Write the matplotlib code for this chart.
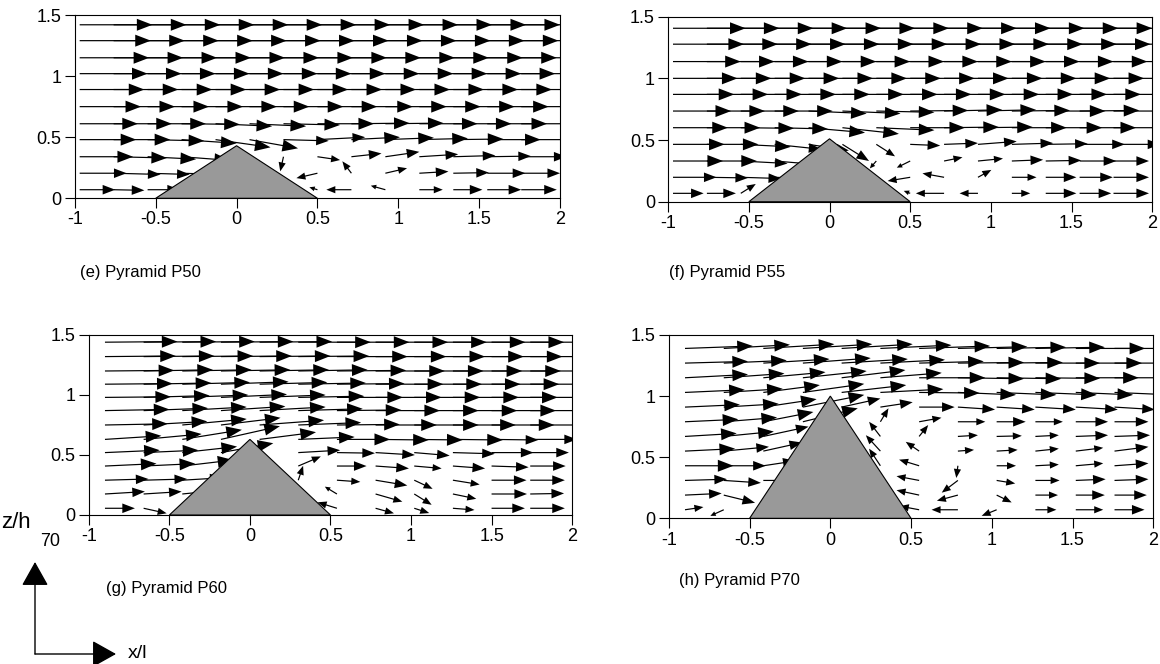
import numpy as np
import matplotlib
matplotlib.use('Agg')
import matplotlib.pyplot as plt
from matplotlib.patches import Polygon

plt.rcParams['font.family'] = ['Liberation Sans', 'DejaVu Sans']
plt.rcParams['axes.unicode_minus'] = False

N = None  # no vector (inside the pyramid or not measured)

# ---------------- (e) Pyramid P50 ----------------
e_x = [-0.97, -0.76, -0.55, -0.34, -0.13, 0.08, 0.29, 0.50, 0.71, 0.92, 1.13, 1.34, 1.55, 1.76]
e_z = [0.07, 0.205, 0.34, 0.48, 0.61, 0.75, 0.89, 1.02, 1.15, 1.29, 1.42]
e_u = [
    [0.22, 0.19, 0.20, N, N, N, N, -0.05, -0.155, -0.09, 0.145, 0.18, 0.21, 0.22],
    [0.29, 0.29, 0.26, 0.25, N, N, N, -0.13, -0.056, 0.134, 0.18, 0.22, 0.235, 0.24],
    [0.33, 0.33, 0.30, 0.30, 0.25, N, -0.02, 0.14, 0.186, 0.21, 0.24, 0.26, 0.27, 0.28],
    [0.35, 0.35, 0.35, 0.34, 0.34, 0.30, 0.28, 0.295, 0.30, 0.30, 0.30, 0.31, 0.33, 0.34],
    [0.36, 0.36, 0.36, 0.36, 0.35, 0.35, 0.35, 0.35, 0.36, 0.36, 0.36, 0.36, 0.37, 0.37],
    [0.38, 0.38, 0.38, 0.38, 0.38, 0.37, 0.37, 0.37, 0.38, 0.38, 0.38, 0.38, 0.38, 0.38],
    [0.40, 0.40, 0.40, 0.40, 0.40, 0.40, 0.40, 0.40, 0.40, 0.40, 0.40, 0.40, 0.40, 0.40],
    [0.42, 0.42, 0.42, 0.42, 0.42, 0.42, 0.42, 0.42, 0.42, 0.42, 0.42, 0.42, 0.42, 0.42],
    [0.43, 0.43, 0.43, 0.43, 0.43, 0.43, 0.43, 0.43, 0.43, 0.43, 0.43, 0.43, 0.43, 0.43],
    [0.44, 0.44, 0.44, 0.44, 0.44, 0.44, 0.44, 0.44, 0.44, 0.44, 0.44, 0.44, 0.44, 0.44],
    [0.45, 0.45, 0.45, 0.45, 0.45, 0.45, 0.45, 0.45, 0.45, 0.45, 0.45, 0.45, 0.45, 0.45],
]
e_w = [
    [0, -0.005, 0, N, N, N, N, 0.02, 0, 0.033, 0, 0, 0, 0],
    [0, -0.01, -0.01, -0.01, N, N, N, -0.04, 0.098, 0.041, 0.014, 0.005, 0, 0],
    [0, -0.01, -0.02, -0.03, -0.02, N, -0.12, -0.027, 0.027, 0.04, 0.02, 0.01, 0.005, 0],
    [0, 0, -0.01, -0.03, -0.063, -0.071, -0.01, 0.02, 0.02, 0.015, 0.01, 0.005, 0, 0],
    [0, 0, 0, -0.005, -0.02, -0.02, -0.01, 0, 0.005, 0.005, 0, 0, 0, 0],
    [0, 0, 0, 0, 0, 0, 0, 0, 0, 0, 0, 0, 0, 0],
    [0, 0, 0, 0, 0, 0, 0, 0, 0, 0, 0, 0, 0, 0],
    [0, 0, 0, 0, 0, 0, 0, 0, 0, 0, 0, 0, 0, 0],
    [0, 0, 0, 0, 0, 0, 0, 0, 0, 0, 0, 0, 0, 0],
    [0, 0, 0, 0, 0, 0, 0, 0, 0, 0, 0, 0, 0, 0],
    [0, 0, 0, 0, 0, 0, 0, 0, 0, 0, 0, 0, 0, 0],
]
e_apex = 0.43

# ---------------- (f) Pyramid P55 ----------------
f_x = [-0.97, -0.76, -0.55, -0.34, -0.13, 0.08, 0.29, 0.50, 0.71, 0.92, 1.13, 1.34, 1.55, 1.76]
f_z = [0.068, 0.198, 0.33, 0.465, 0.60, 0.735, 0.87, 1.0, 1.136, 1.277, 1.406]
f_u = [
    [0.19, 0.18, 0.093, N, N, N, N, -0.04, -0.175, -0.114, 0.114, 0.19, 0.196, 0.22],
    [0.27, 0.255, 0.25, 0.22, N, N, N, -0.14, -0.134, 0.083, 0.153, 0.19, 0.206, 0.22],
    [0.31, 0.31, 0.29, 0.28, N, N, -0.04, -0.083, 0.114, 0.155, 0.194, 0.22, 0.227, 0.22],
    [0.32, 0.32, 0.31, 0.29, 0.25, 0.165, 0.116, 0.186, 0.21, 0.24, 0.256, 0.26, 0.28, 0.29],
    [0.34, 0.33, 0.33, 0.33, 0.35, 0.35, 0.36, 0.34, 0.34, 0.34, 0.34, 0.35, 0.35, 0.35],
    [0.36, 0.36, 0.36, 0.36, 0.36, 0.36, 0.36, 0.36, 0.36, 0.36, 0.36, 0.37, 0.37, 0.37],
    [0.38, 0.38, 0.38, 0.38, 0.38, 0.38, 0.38, 0.38, 0.38, 0.38, 0.38, 0.38, 0.38, 0.38],
    [0.40, 0.40, 0.40, 0.40, 0.40, 0.40, 0.40, 0.40, 0.40, 0.40, 0.40, 0.40, 0.40, 0.40],
    [0.42, 0.42, 0.42, 0.42, 0.42, 0.42, 0.42, 0.42, 0.42, 0.42, 0.42, 0.42, 0.42, 0.42],
    [0.44, 0.44, 0.44, 0.44, 0.44, 0.44, 0.44, 0.44, 0.44, 0.44, 0.44, 0.44, 0.44, 0.44],
    [0.45, 0.45, 0.45, 0.45, 0.45, 0.45, 0.45, 0.45, 0.45, 0.45, 0.45, 0.45, 0.45, 0.45],
]
f_w = [
    [0, 0, 0.076, N, N, N, N, 0.02, 0, 0, 0, 0, 0, 0],
    [0, -0.005, -0.01, -0.01, N, N, N, -0.03, 0.032, 0.06, 0, 0, 0, 0],
    [0, 0, -0.02, -0.03, N, N, -0.06, -0.054, 0.03, 0.02, 0.01, 0.005, 0, 0],
    [0, 0, -0.02, -0.04, -0.05, -0.135, -0.097, -0.01, 0.01, 0.024, 0.01, 0.005, 0, 0],
    [0, 0, -0.005, -0.01, -0.04, -0.05, -0.02, 0, 0.005, 0.005, 0, 0, 0, 0],
    [0, 0, 0, 0, -0.02, -0.02, -0.01, 0.005, 0.01, 0.01, 0.005, 0, 0.005, 0],
    [0, 0, 0, 0, 0, 0, 0, 0, 0, 0, 0, 0, 0, 0],
    [0, 0, 0, 0, 0, 0, 0, 0, 0, 0, 0, 0, 0, 0],
    [0, 0, 0, 0, 0, 0, 0, 0, 0, 0, 0, 0, 0, 0],
    [0, 0, 0, 0, 0, 0, 0, 0, 0, 0, 0, 0, 0, 0],
    [0, 0, 0, 0, 0, 0, 0, 0, 0, 0, 0, 0, 0, 0],
]
f_apex = 0.51

# ---------------- (g) Pyramid P60 ----------------
g_x = [-0.90, -0.66, -0.42, -0.18, 0.06, 0.30, 0.54, 0.78, 1.02, 1.26, 1.50, 1.74]
g_z = [0.056, 0.175, 0.29, 0.408, 0.52, 0.63, 0.75, 0.87, 0.98, 1.09, 1.20, 1.32, 1.44]
g_u = [
    [0.186, 0.143, N, N, N, N, -0.12, 0.114, 0.093, 0.134, 0.207, 0.215],
    [0.248, 0.236, 0.22, N, N, N, -0.075, 0.166, 0.108, 0.145, 0.22, 0.21],
    [0.27, 0.27, 0.25, N, N, 0.03, 0.145, 0.197, 0.114, 0.166, 0.217, 0.215],
    [0.32, 0.32, 0.317, 0.30, N, 0.14, 0.184, 0.207, 0.17, 0.20, 0.23, 0.22],
    [0.34, 0.34, 0.34, 0.325, N, 0.26, 0.236, 0.244, 0.22, 0.26, 0.26, 0.24],
    [0.35, 0.36, 0.37, 0.366, 0.35, 0.35, 0.33, 0.33, 0.30, 0.31, 0.29, 0.29],
    [0.39, 0.395, 0.40, 0.37, 0.40, 0.39, 0.39, 0.38, 0.40, 0.39, 0.39, 0.39],
    [0.40, 0.40, 0.40, 0.40, 0.41, 0.40, 0.40, 0.40, 0.40, 0.40, 0.40, 0.40],
    [0.41, 0.41, 0.41, 0.41, 0.41, 0.41, 0.41, 0.41, 0.41, 0.41, 0.41, 0.41],
    [0.42, 0.42, 0.42, 0.42, 0.42, 0.42, 0.42, 0.42, 0.42, 0.42, 0.42, 0.42],
    [0.43, 0.43, 0.43, 0.43, 0.43, 0.43, 0.43, 0.43, 0.43, 0.43, 0.43, 0.43],
    [0.44, 0.44, 0.44, 0.44, 0.44, 0.44, 0.44, 0.44, 0.44, 0.44, 0.44, 0.44],
    [0.45, 0.45, 0.45, 0.45, 0.45, 0.45, 0.45, 0.45, 0.45, 0.45, 0.45, 0.45],
]
g_w = [
    [0, -0.042, N, N, N, N, 0.05, -0.042, -0.04, -0.014, 0, 0],
    [0.02, 0.02, 0.03, N, N, N, 0.061, -0.064, -0.09, -0.04, 0, 0.005],
    [0.01, 0.01, 0.02, N, N, 0.12, -0.014, -0.044, -0.072, -0.036, 0, 0],
    [0.02, 0.02, 0.05, 0.05, N, 0.08, 0, -0.02, -0.02, -0.02, -0.01, 0],
    [0.02, 0.02, 0.05, 0.078, N, 0.02, -0.005, -0.02, -0.025, -0.01, 0, 0],
    [0.03, 0.045, 0.08, 0.11, 0.06, 0.02, 0, -0.005, -0.005, -0.005, -0.005, 0],
    [0.01, 0.03, 0.05, 0.06, 0.04, 0.02, 0.005, 0, 0, 0, 0, 0],
    [0.01, 0.02, 0.03, 0.035, 0.03, 0.015, 0.005, 0, 0, 0, 0, 0],
    [0.005, 0.015, 0.02, 0.025, 0.02, 0.01, 0, 0, 0, 0, 0, 0],
    [0.005, 0.01, 0.015, 0.02, 0.015, 0.01, 0.005, 0, 0, 0, 0, 0],
    [0.005, 0.01, 0.01, 0.01, 0.01, 0.01, 0.005, 0, 0, 0, 0, 0],
    [0.005, 0.005, 0.005, 0.005, 0.005, 0.005, 0, 0, 0, 0, 0, 0],
    [0.005, 0.005, 0.005, 0.005, 0.005, 0, 0, 0, 0, 0, 0, 0],
]
g_apex = 0.63

# ---------------- (h) Pyramid P70 ----------------
h_x = [-0.90, -0.66, -0.415, -0.17, 0.07, 0.31, 0.55, 0.79, 1.03, 1.27, 1.52, 1.76]
h_z = [0.07, 0.19, 0.31, 0.43, 0.55, 0.67, 0.79, 0.91, 1.03, 1.15, 1.27, 1.39]
h_u = [
    [0.114, -0.083, N, N, N, N, -0.12, -0.163, -0.093, 0.13, 0.17, 0.186],
    [0.227, 0.194, N, N, N, N, -0.14, -0.13, 0.093, 0.14, 0.18, 0.20],
    [0.26, 0.23, 0.20, N, N, N, -0.14, -0.10, 0.115, 0.15, 0.185, 0.21],
    [0.30, 0.26, 0.20, N, N, -0.07, -0.124, -0.01, 0.12, 0.145, 0.17, 0.21],
    [0.31, 0.28, 0.24, N, N, -0.09, -0.083, 0.10, 0.13, 0.145, 0.17, 0.21],
    [0.32, 0.31, 0.28, N, N, -0.07, 0.056, 0.124, 0.156, 0.145, 0.20, 0.22],
    [0.33, 0.33, 0.31, 0.34, N, 0.05, 0.138, 0.17, 0.18, 0.17, 0.20, 0.21],
    [0.34, 0.34, 0.33, 0.38, 0.24, 0.20, 0.22, 0.23, 0.236, 0.25, 0.26, 0.25],
    [0.37, 0.365, 0.35, 0.38, 0.40, 0.39, 0.375, 0.36, 0.37, 0.38, 0.355, 0.36],
    [0.39, 0.376, 0.385, 0.395, 0.395, 0.38, 0.41, 0.41, 0.40, 0.40, 0.39, 0.39],
    [0.39, 0.39, 0.41, 0.42, 0.41, 0.40, 0.40, 0.41, 0.41, 0.40, 0.41, 0.41],
    [0.42, 0.41, 0.44, 0.43, 0.44, 0.44, 0.44, 0.43, 0.43, 0.43, 0.43, 0.43],
]
h_w = [
    [0.022, -0.05, N, N, N, N, 0.03, 0, -0.05, 0, 0, 0],
    [0.014, -0.063, N, N, N, N, 0.04, -0.046, -0.06, 0, 0, 0],
    [0.01, -0.02, 0, N, N, N, 0.035, -0.10, -0.025, 0, 0.01, 0.01],
    [0, 0, 0.04, N, N, 0.14, 0.05, -0.10, 0, 0.01, 0.02, 0.02],
    [0.02, 0.035, 0.07, N, N, 0.13, 0.076, 0.01, 0.01, 0.02, 0.027, 0.035],
    [0.025, 0.04, 0.08, N, N, 0.12, 0.093, 0.01, 0.005, 0.01, 0.01, 0.01],
    [0.02, 0.035, 0.08, 0.11, N, 0.11, 0.033, 0, 0, 0, 0, 0],
    [0.02, 0.027, 0.065, 0.10, 0.07, 0.04, 0, -0.02, -0.02, -0.02, -0.02, -0.02],
    [0.022, 0.03, 0.06, 0.07, 0.06, 0.027, -0.005, -0.02, -0.02, -0.02, -0.02, -0.02],
    [0.027, 0.035, 0.046, 0.055, 0.063, 0.04, 0, -0.008, -0.008, -0.005, 0, 0],
    [0.014, 0.022, 0.033, 0.041, 0.033, 0.027, 0.014, 0.005, 0.005, 0, 0, 0],
    [0.02, 0.03, 0.035, 0.035, 0.035, 0.027, 0.02, 0.014, 0.01, 0.01, 0, 0],
]
h_apex = 1.0

base_half = 0.5
x_ticks = [-1, -0.5, 0, 0.5, 1, 1.5, 2]
x_labels = ['-1', '-0.5', '0', '0.5', '1', '1.5', '2']
z_ticks = [0, 0.5, 1, 1.5]
z_labels = ['0', '0.5', '1', '1.5']

# head size classes by arrow length: (min length, head width, head length) in shaft widths
head_classes = [(0.30, 10.0, 13.0), (0.18, 8.0, 10.5), (0.10, 6.0, 7.5), (0.0, 4.0, 4.5)]


def draw_panel(ax, xs, zs, us, ws, apex):
    X, Z = np.meshgrid(xs, zs)
    U = np.array(us, dtype=float)
    W = np.array(ws, dtype=float)
    L = np.hypot(U, W)
    ok = ~np.isnan(U)
    upper = 10.0
    for lo, hw, hl in head_classes:
        m = ok & (L >= lo) & (L < upper)
        upper = lo
        if m.any():
            ax.quiver(X[m], Z[m], U[m], W[m], angles='xy', scale_units='xy', scale=1,
                      units='dots', width=1.2, headwidth=hw, headlength=hl,
                      headaxislength=hl, minlength=0.1, color='k', zorder=2)
    ax.add_patch(Polygon([(-base_half, 0), (0, apex), (base_half, 0)], closed=True,
                         fc='#999999', ec='k', lw=0.8, zorder=3))
    ax.set_xlim(-1, 2)
    ax.set_ylim(0, 1.5)
    ax.set_xticks(x_ticks)
    ax.set_xticklabels(x_labels)
    ax.set_yticks(z_ticks)
    ax.set_yticklabels(z_labels)
    ax.tick_params(direction='out', length=7.5, width=0.8, pad=2, labelsize=13)
    for s in ax.spines.values():
        s.set_linewidth(0.8)


fig = plt.figure(figsize=(11.6, 6.64), dpi=100)

# overlay in pixel coordinates for captions and the axis key
ax0 = fig.add_axes([0, 0, 1, 1], zorder=-1)
ax0.set_xlim(0, 1160)
ax0.set_ylim(664, 0)
ax0.axis('off')

ax_e = fig.add_axes([0.0645, 0.7014, 0.4183, 0.2760])
ax_f = fig.add_axes([0.5760, 0.6962, 0.4173, 0.2787])
ax_g = fig.add_axes([0.0766, 0.2244, 0.4166, 0.2711])
ax_h = fig.add_axes([0.5766, 0.2194, 0.4176, 0.2761])

draw_panel(ax_e, e_x, e_z, e_u, e_w, e_apex)
draw_panel(ax_f, f_x, f_z, f_u, f_w, f_apex)
draw_panel(ax_g, g_x, g_z, g_u, g_w, g_apex)
draw_panel(ax_h, h_x, h_z, h_u, h_w, h_apex)

cap_kw = dict(fontsize=12, ha='left', va='center')
ax0.text(80, 273, '(e) Pyramid P50', **cap_kw)
ax0.text(669, 273, '(f) Pyramid P55', **cap_kw)
ax0.text(106, 588, '(g) Pyramid P60', **cap_kw)
ax0.text(679, 581, '(h) Pyramid P70', **cap_kw)

# axis key
ax0.text(1, 522, 'z/h', fontsize=16, ha='left', va='center')
ax0.text(40, 541, '70', fontsize=13, ha='left', va='center')
ax0.text(128, 653, 'x/l', fontsize=14, ha='left', va='center')
ak = dict(arrowstyle='-|>,head_length=0.75,head_width=0.42', mutation_scale=20,
          lw=1.0, color='k', shrinkA=0, shrinkB=0)
ax0.annotate('', xy=(35, 562), xytext=(35, 654), arrowprops=ak)
ax0.annotate('', xy=(116, 654), xytext=(35, 654), arrowprops=ak)

fig.savefig('out.png', dpi=100)
